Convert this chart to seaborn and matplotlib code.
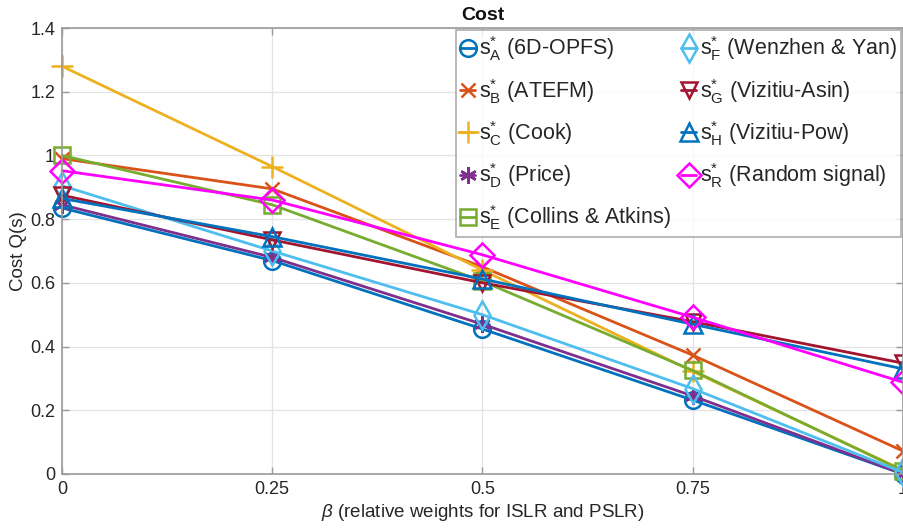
import matplotlib
matplotlib.use("Agg")
import matplotlib.pyplot as plt
import seaborn as sns
import numpy as np

beta = [0, 0.25, 0.5, 0.75, 1]
s_A = [0.835, 0.670, 0.455, 0.232, 0.000]
s_B = [0.990, 0.895, 0.650, 0.373, 0.072]
s_C = [1.280, 0.965, 0.640, 0.322, 0.012]
s_D = [0.845, 0.680, 0.470, 0.245, 0.000]
s_E = [1.000, 0.845, 0.605, 0.325, 0.010]
s_F = [0.905, 0.700, 0.500, 0.268, 0.005]
s_G = [0.875, 0.735, 0.600, 0.478, 0.348]
s_H = [0.865, 0.745, 0.612, 0.470, 0.330]
s_R = [0.952, 0.860, 0.688, 0.492, 0.288]

labels = [
    r"$\mathregular{s^{*}_{A}}$ (6D-OPFS)",
    r"$\mathregular{s^{*}_{B}}$ (ATEFM)",
    r"$\mathregular{s^{*}_{C}}$ (Cook)",
    r"$\mathregular{s^{*}_{D}}$ (Price)",
    r"$\mathregular{s^{*}_{E}}$ (Collins & Atkins)",
    r"$\mathregular{s^{*}_{F}}$ (Wenzhen & Yan)",
    r"$\mathregular{s^{*}_{G}}$ (Vizitiu-Asin)",
    r"$\mathregular{s^{*}_{H}}$ (Vizitiu-Pow)",
    r"$\mathregular{s^{*}_{R}}$ (Random signal)",
]
series = [s_A, s_B, s_C, s_D, s_E, s_F, s_G, s_H, s_R]
colors = ["#0072BD", "#D95319", "#EDB120", "#7E2F8E", "#77AC30",
          "#4DBEEE", "#A2142F", "#0072BD", "#FF00FF"]
markers = ["o", "x", "+", (6, 2, 0), "s", "d", "v", "^", "D"]
msizes = [12, 10, 16, 12, 11, 14, 12, 13, 12]
hollow = [True, False, False, False, True, True, True, True, True]

x_ticks = [0, 0.25, 0.5, 0.75, 1]
x_ticklabels = ["0", "0.25", "0.5", "0.75", "1"]
y_ticks = [0, 0.2, 0.4, 0.6, 0.8, 1.0, 1.2, 1.4]
y_ticklabels = ["0", "0.2", "0.4", "0.6", "0.8", "1", "1.2", "1.4"]

sns.set_style("white")
plt.rcParams["font.family"] = ["Liberation Sans", "DejaVu Sans"]
plt.rcParams["mathtext.fontset"] = "custom"
plt.rcParams["mathtext.rm"] = "Liberation Sans"
plt.rcParams["mathtext.it"] = "Liberation Sans:italic"

fig = plt.figure(figsize=(9.04, 5.28), dpi=100)
ax = fig.add_axes([62 / 904, 1 - 474 / 528, (903 - 62) / 904, (474 - 28) / 528])

for ys, lab, c, m, ms, h in zip(series, labels, colors, markers, msizes, hollow):
    kw = dict(markeredgecolor=c, markeredgewidth=1.8, markersize=ms)
    if h:
        kw["markerfacecolor"] = "none"
    else:
        kw["markerfacecolor"] = c
    sns.lineplot(x=beta, y=ys, ax=ax, color=c, marker=m, label=lab,
                 linewidth=2.0, clip_on=False, **kw)

ax.set_xlim(0, 1)
ax.set_ylim(0, 1.4)
ax.set_xticks(x_ticks)
ax.set_xticklabels(x_ticklabels)
ax.set_yticks(y_ticks)
ax.set_yticklabels(y_ticklabels)
ax.grid(True, color="#e3e3e3", linewidth=0.9)
ax.set_axisbelow(True)
for sp in ax.spines.values():
    sp.set_visible(True)
    sp.set_color("#9a9a9a")
    sp.set_linewidth(1.2)
ax.tick_params(direction="in", length=5, width=1.0, color="#9a9a9a",
               labelsize=13, labelcolor="#262626", top=True, right=True,
               bottom=True, left=True, pad=5)
ax.set_xlabel(r"$\it{\beta}$ (relative weights for ISLR and PSLR)", fontsize=13.5,
              color="#262626", labelpad=3)
ax.set_ylabel("Cost Q(s)", fontsize=13.5, color="#262626", labelpad=2)
ax.set_title("Cost", fontsize=14, fontweight="bold", color="#111111", pad=6)

leg = ax.legend(ncol=2, loc="upper right", fontsize=15.5, frameon=True,
                borderaxespad=0.1, handlelength=0.7, handletextpad=0.15,
                columnspacing=0.5, labelspacing=0.62, borderpad=0.2,
                fancybox=False)
leg.get_frame().set_edgecolor("#9a9a9a")
leg.get_frame().set_linewidth(1.2)
leg.set_zorder(10)
for t in leg.get_texts():
    t.set_color("#262626")

fig.savefig("out.png", dpi=100)
